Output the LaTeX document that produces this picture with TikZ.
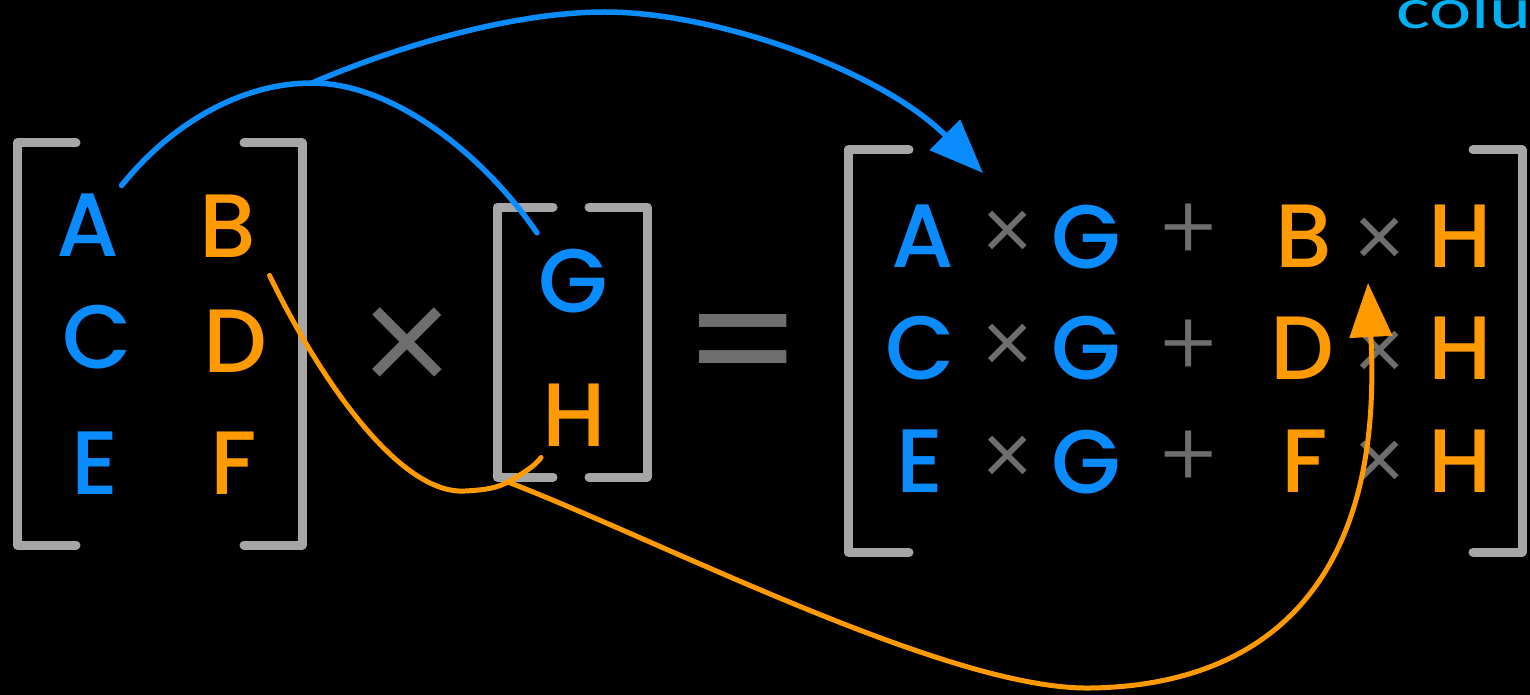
\documentclass[tikz,border=0pt]{standalone}
\usepackage{fontspec}
\setmainfont{Poppins}[UprightFont={* Medium}]
\newfontfamily\opfont{Poppins}[UprightFont={* Light}]
\newfontfamily\eqfont{Poppins}
\newfontfamily\notefont{Carlito}
\usetikzlibrary{arrows.meta}
\definecolor{mblue}{RGB}{10,140,255}
\definecolor{morange}{RGB}{255,155,0}
\definecolor{brk}{RGB}{166,166,166}
\definecolor{opgray}{RGB}{110,110,110}
\definecolor{notecyan}{RGB}{0,176,240}
\begin{document}
\begin{tikzpicture}[x=1pt,y=-1pt,
  ent/.style={inner sep=0pt,font=\fontsize{90}{90}\selectfont},
  blent/.style={ent,text=mblue},
  orent/.style={ent,text=morange},
  bracket/.style={draw=brk,line width=9pt,line cap=round,line join=round},
  bigop/.style={inner sep=0pt,text=opgray,font=\opfont\fontsize{165}{165}\selectfont},
  eqop/.style={inner sep=0pt,text=opgray,font=\eqfont\fontsize{168}{168}\selectfont},
  smallop/.style={inner sep=0pt,text=opgray,font=\opfont\fontsize{92}{92}\selectfont},
  bluelink/.style={draw=mblue,line width=5.5pt,line cap=round},
  orangelink/.style={draw=morange,line width=5pt,line cap=round},
  tip/.style={-{Triangle[length=54pt,width=42pt]}}
]
\fill[black] (0,0) rectangle (1530,695);
\useasboundingbox (0,0) rectangle (1530,695);

% left factor: 3x2 matrix
\draw[bracket] (76,143) -- (17,143) -- (17,545) -- (76,545);
\draw[bracket] (244,143) -- (302,143) -- (302,545) -- (244,545);
\node[blent] (A) at (88,225) {A};
\node[orent] (B) at (228,226) {B};
\node[blent] (C) at (97,337) {C};
\node[orent] (D) at (235,341) {D};
\node[blent] (E) at (95,463) {E};
\node[orent] (F) at (234,463) {F};

\node[bigop] (times) at (407,356) {×};

% right factor: column vector
\draw[bracket] (553,207) -- (497,207) -- (497,477) -- (553,477);
\draw[bracket] (589,207) -- (647,207) -- (647,477) -- (589,477);
\node[blent] (G) at (573,281) {G};
\node[orent] (H) at (574,415) {H};

\node[eqop] (eq) at (743,357) {=};

% product
\draw[bracket] (909,150) -- (848,150) -- (848,552) -- (909,552);
\draw[bracket] (1473,150) -- (1522,150) -- (1522,552) -- (1473,552);

\node[blent] (rA) at (923,236) {A};
\node[smallop] (m1) at (1008,238) {×};
\node[blent] (rG1) at (1086,237) {G};
\node[smallop] (p1) at (1189,233) {+};
\node[orent] (rB) at (1304,236) {B};
\node[smallop] (n1) at (1380,245) {×};
\node[orent] (rH1) at (1460,236) {H};

\node[blent] (rC) at (920,348) {C};
\node[smallop] (m2) at (1008,351) {×};
\node[blent] (rG2) at (1086,348) {G};
\node[smallop] (p2) at (1189,349) {+};
\node[orent] (rD) at (1302,348) {D};
\node[smallop] (n2) at (1380,358) {×};
\node[orent] (rH2) at (1460,348) {H};

\node[blent] (rE) at (920,461) {E};
\node[smallop] (m3) at (1008,463) {×};
\node[blent] (rG3) at (1086,462) {G};
\node[smallop] (p3) at (1189,460) {+};
\node[orent] (rF) at (1305,461) {F};
\node[smallop] (n3) at (1380,468) {×};
\node[orent] (rH3) at (1460,461) {H};

\node[anchor=base west,inner sep=0pt,text=notecyan,font=\notefont\fontsize{58}{58}\selectfont]
  (note) at (1396,29) {\scalebox{1.38}[1]{colu}};

% first column times G
\draw[bluelink] ([shift={(2,-8)}]A.north east)
  .. controls (170,125) and (240,83) .. (312,83) coordinate (bj)
  .. controls (390,83) and (480,150) .. ([shift={(-1,-16)}]G.north west);
\coordinate (sumA) at (983,173);
\draw[bluelink,tip] (bj)
  .. controls (400,45) and (515,12) .. (605,12)
  .. controls (715,12) and (880,70) .. (sumA);

% second column times H
\draw[orangelink] ([shift={(13,18)}]B.south east)
  .. controls (320,380) and (400,495) .. (465,491)
  .. controls (485,490) and (497,488) .. (508,482) coordinate (oj)
  .. controls (522,474) and (535,466) .. ([shift={(-1,11)}]H.south west);
\coordinate (sumB) at (1368,283);
\draw[orangelink,tip] (oj)
  .. controls (670,545) and (950,690) .. (1090,688)
  .. controls (1250,686) and (1385,600) .. (sumB);
\end{tikzpicture}
\end{document}
